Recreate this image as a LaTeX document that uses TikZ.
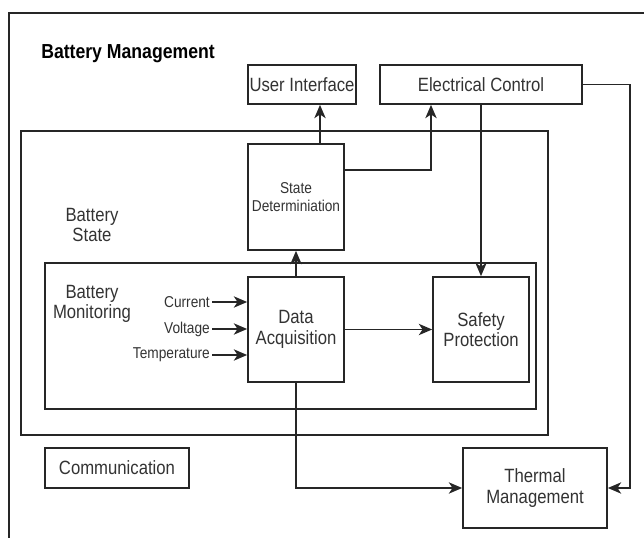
\documentclass[tikz,border=0pt]{standalone}
\usepackage{fontspec}
\setmainfont{Liberation Sans}[FakeStretch=0.87]
\usetikzlibrary{arrows.meta}

\definecolor{ink}{HTML}{262626}
\definecolor{txt}{HTML}{333333}

\begin{document}
\begin{tikzpicture}[
  x=0.75pt, y=-0.75pt,
  line width=1.3pt,
  % block of #1 x #2 pixels
  sz/.style 2 args={minimum width=#1*0.75pt, minimum height=#2*0.75pt},
  box/.style={draw=ink, fill=white, inner sep=0pt, align=center, text=txt,
              font=\fontsize{14.4}{15.4}\selectfont},
  smallbox/.style={box, font=\fontsize{11.8}{14}\selectfont},
  frame/.style={draw=ink, inner sep=0pt},
  lbl/.style={align=center, text=txt, font=\fontsize{14.4}{15.4}\selectfont},
  inlbl/.style={text=txt, inner sep=1pt, font=\fontsize{11.8}{14}\selectfont},
  arr/.style={draw=ink, -{Stealth[length=10pt, width=8.5pt, inset=2.8pt]}},
  wire/.style={draw=ink}
]
\useasboundingbox (0,0) rectangle (644,538);

% outer frame, open to the right and bottom
\coordinate (fbl) at (9,538);
\coordinate (ftl) at (9,13);
\coordinate (ftr) at (644,13);
\draw[wire] (fbl) -- (ftl) -- (ftr);

\node[anchor=west, text=black, font=\bfseries\fontsize{15.2}{16}\selectfont] (title) at (36,54) {Battery Management};

% group frames
\node[frame, sz={527}{304}] (bs) at (284.5,283) {};
\node[frame, sz={491}{146}] (bm) at (290.5,336) {};
\node[lbl] (bslbl) at (92,225) {Battery\\State};
\node[lbl] (bmlbl) at (92,304) {Battery\\Monitoring};

% blocks
\node[box, sz={108}{39}] (ui) at (302,84.5) {User Interface};
\node[box, sz={202}{39}] (ec) at (481,84.5) {Electrical Control};
\node[smallbox, sz={96}{106}] (sd) at (296,197) {State\\Determiniation};
\node[box, sz={96}{105}] (da) at (296,329.5) {Data\\Acquisition};
\node[box, sz={96}{105}] (sp) at (481,329.5) {Safety\\Protection};
\node[box, sz={144}{40}] (comm) at (117,468) {Communication};
\node[box, sz={144}{80}] (tm) at (535,488) {Thermal\\Management};

% sensor inputs
\node[inlbl, anchor=east] (cur) at (212,302) {Current};
\node[inlbl, anchor=east] (volt) at (212,329) {Voltage};
\node[inlbl, anchor=east] (temp) at (212,355) {Temperature};
\draw[arr] (cur.east) -- (cur.east -| da.west);
\draw[arr] (volt.east) -- (volt.east -| da.west);
\draw[arr] (temp.east) -- (temp.east -| da.west);

% routing columns
\coordinate (uicol) at (320,0);
\coordinate (eccol) at (431,170);
\coordinate (rcol) at (630,0);

% connectors
\draw[arr] (sd.north -| uicol) -- (ui.south -| uicol);
\draw[arr] (sd.east |- eccol) -- (eccol) -- (ec.south -| eccol);
\draw[arr] (ec.south -| sp.north) -- (sp.north);
\draw[arr] (da.north) -- (sd.south);
\draw[arr] (da.east) -- (sp.west);
\draw[arr] (da.south) -- (da.south |- tm.west) -- (tm.west);
\draw[arr] (ec.east) -- (ec.east -| rcol) -- (tm.east -| rcol) -- (tm.east);
\end{tikzpicture}
\end{document}
